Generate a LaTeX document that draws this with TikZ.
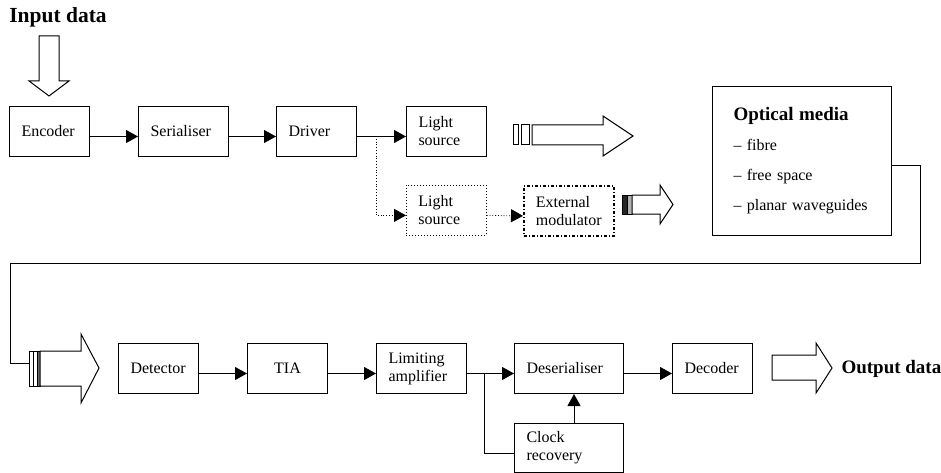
\documentclass[tikz,border=0pt]{standalone}
\usepackage{fontspec}
\setmainfont{Liberation Serif}
\usetikzlibrary{positioning}
\usetikzlibrary{calc}
\usetikzlibrary{arrows.meta}
\tikzset{
  block_style/.style = {
    draw, line width=1pt, anchor=north west, minimum height=50pt,
    inner xsep=12pt, text width=#1, align=left,
    font=\fontsize{16}{18}\selectfont },
  block_style/.default = 56pt
}

\begin{document}
\begin{tikzpicture}[x=1pt, y=-1pt,
arrow_style/.style={line width=1pt, -{Triangle[length=12pt,width=13pt]}},
dotted_style/.style={line width=0.8pt, dotted, -{Triangle[length=12pt,width=13pt]}},
fat_style/.style={draw, line width=1pt, fill=white, line join=miter},
label_style/.style={font=\fontsize{19}{22}\selectfont\bfseries}]
\useasboundingbox (0,0) rectangle (941,473);

% transmitter
\node[label_style, font=\fontsize{21.5}{24}\selectfont\bfseries] (in_label) at (58,17) {Input data};
\node[block_style] (enc) at (9,106) {Encoder};
\node[block_style=66pt] (ser) at (138,106) {Serialiser};
\node[block_style] (drv) at (276,106) {Driver};
\node[block_style] (ls_a) at (406,106) {Light\\source};
\node[block_style, dotted, line width=0.8pt] (ls_b) at (406,185) {Light\\source};
\node[block_style=66pt, dash dot, line width=1.8pt] (ext_mod) at (523,185) {External\\modulator};

% optical media
\node[draw, line width=1pt, anchor=north west, minimum height=149pt,
  inner xsep=21pt, text width=137pt, align=left,
  font=\fontsize{16}{30}\selectfont] (opt) at (712,86)
  {{\fontsize{19}{30}\selectfont\bfseries Optical media}\\
   -- fibre\\ -- free space\\ -- planar waveguides};

% receiver
\node[block_style] (det) at (118,343) {Detector};
\node[block_style, align=center] (tia) at (247,343) {TIA};
\node[block_style=66pt] (lim) at (376,343) {Limiting\\amplifier};
\node[block_style=85pt] (des) at (514,343) {Deserialiser};
\node[block_style] (dec) at (672,343) {Decoder};
\node[block_style=85pt, minimum height=49pt] (clk) at (514,423) {Clock\\recovery};
\node[label_style, anchor=west] (out_label) at (838,369) {Output data};

\coordinate (br_a) at (376,136);
\coordinate (br_b) at (484,373);
\coordinate (turn_a) at (920,263);
\coordinate (turn_b) at (10,263);
\coordinate (rx_tail) at (29,363);

% fat arrows
\draw[fat_style] (39,36) -- (59,36) -- (59,81) -- (69,81) -- (49,96) -- (29,81) -- (39,81) -- cycle;
\draw[line width=1pt] (513,125) rectangle (518,145);
\draw[line width=1pt] (521,125) rectangle (529,145);
\draw[fat_style] (532,125) -- (603,125) -- (603,116) -- (633,136) -- (603,156) -- (603,145) -- (532,145) -- cycle;
\draw[line width=1pt, fill=black!85] (622,195) rectangle (627,214);
\draw[line width=1pt, fill=black!30] (627,195) rectangle (632,214);
\draw[fat_style] (632,195) -- (660,195) -- (660,185) -- (673,204.5) -- (660,224) -- (660,214) -- (632,214) -- cycle;
\draw[line width=0.8pt] (29,351) rectangle (33,386);
\draw[line width=0.8pt] (33,351) rectangle (37,386);
\draw[line width=0.8pt, fill=black!60] (37,351) rectangle (40,386);
\draw[fat_style] (40,351) -- (81,351) -- (81,334) -- (99,368) -- (81,403) -- (81,386) -- (40,386) -- cycle;
\draw[fat_style] (772,355) -- (816,355) -- (816,343) -- (832,368) -- (816,393) -- (816,380) -- (772,380) -- cycle;

% connectors
\foreach \a/\b in {enc/ser,ser/drv,drv/ls_a,det/tia,tia/lim,lim/des,des/dec}{
 \draw[arrow_style] ([yshift=-5pt]\a.east) -- ([yshift=-5pt]\b.west);
}
\draw[dotted_style] (br_a) |- ([yshift=-5pt]ls_b.west);
\draw[dotted_style] ([yshift=-5pt]ls_b.east) -- ([yshift=-5pt]ext_mod.west);
\draw[line width=1pt] (br_b) |- ([yshift=-5pt]clk.west);
\draw[arrow_style] ([xshift=5pt]clk.north) -- ([xshift=5pt]des.south);
\draw[line width=1pt] ([yshift=-5pt]opt.east) -| (turn_a) -- (turn_b) |- (rx_tail);
\end{tikzpicture}
\end{document}
